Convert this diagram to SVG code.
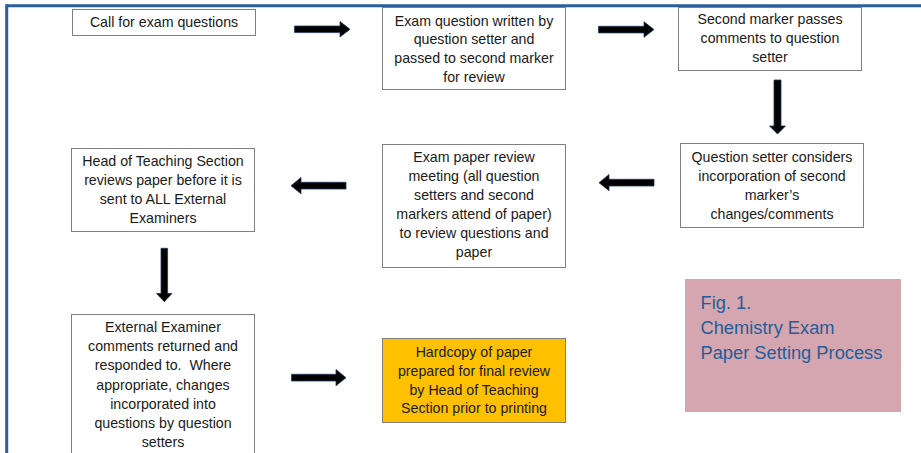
<svg xmlns="http://www.w3.org/2000/svg" width="921" height="453" viewBox="0 0 921 453">
<defs>
<style>
.box{fill:#ffffff;stroke:#7f7f7f;stroke-width:1}
.hot{fill:#ffc000;stroke:#7f7f7f;stroke-width:1}
.t{font-family:"Liberation Sans",Arial,sans-serif;font-size:14.2px;fill:#1a1a1a;text-anchor:middle}
.arr{fill:#000000;stroke:#1f3a5a;stroke-width:0.8}
.fig{font-family:"Liberation Sans",Arial,sans-serif;font-size:18.3px;fill:#1f5e9a}
</style>
</defs>
<rect width="921" height="453" fill="#ffffff"/>
<g id="frame">
<line x1="6.7" y1="5.8" x2="921" y2="5.8" stroke="#2a5e9c" stroke-width="3"/>
<line x1="6.7" y1="4.3" x2="6.7" y2="453" stroke="#2a5e9c" stroke-width="3"/>
</g>
<g id="n1"><rect class="box" x="72.5" y="9.5" width="183" height="26"/>
<text class="t" x="164" y="27.3">Call for exam questions</text></g>
<g id="n2"><rect class="box" x="382.5" y="7.5" width="183" height="82"/>
<text class="t" x="474" y="25.5">Exam question written by<tspan x="474" dy="18.8">question setter and</tspan><tspan x="474" dy="18.8">passed to second marker</tspan><tspan x="474" dy="18.8">for review</tspan></text></g>
<g id="n3"><rect class="box" x="678.5" y="7.5" width="183" height="63"/>
<text class="t" x="770" y="24">Second marker passes<tspan x="770" dy="19.2">comments to question</tspan><tspan x="770" dy="19.2">setter</tspan></text></g>
<g id="n4"><rect class="box" x="680.5" y="143.5" width="183" height="84"/>
<text class="t" x="772" y="161.7">Question setter considers<tspan x="772" dy="19.2">incorporation of second</tspan><tspan x="772" dy="19.2">marker’s</tspan><tspan x="772" dy="19.2">changes/comments</tspan></text></g>
<g id="n5"><rect class="box" x="382.5" y="144.5" width="183" height="123"/>
<text class="t" x="474" y="162.3">Exam paper review<tspan x="474" dy="18.9">meeting (all question</tspan><tspan x="474" dy="18.9">setters and second</tspan><tspan x="474" dy="18.9">markers attend of paper)</tspan><tspan x="474" dy="18.9">to review questions and</tspan><tspan x="474" dy="18.9">paper</tspan></text></g>
<g id="n6"><rect class="box" x="71.5" y="148.5" width="183" height="83"/>
<text class="t" x="163" y="165.7">Head of Teaching Section<tspan x="163" dy="19.2">reviews paper before it is</tspan><tspan x="163" dy="19.2">sent to ALL External</tspan><tspan x="163" dy="19.2">Examiners</tspan></text></g>
<g id="n7"><rect class="box" x="71.5" y="314.5" width="183" height="150"/>
<text class="t" x="163" y="332.3">External Examiner<tspan x="163" dy="19.07">comments returned and</tspan><tspan x="163" dy="19.07">responded to.&#160; Where</tspan><tspan x="163" dy="19.07">appropriate, changes</tspan><tspan x="163" dy="19.07">incorporated into</tspan><tspan x="163" dy="19.07">questions by question</tspan><tspan x="163" dy="19.07">setters</tspan></text></g>
<g id="n8"><rect class="hot" x="382.5" y="338.5" width="183" height="84"/>
<text class="t" x="474" y="356.7">Hardcopy of paper<tspan x="474" dy="18.9">prepared for final review</tspan><tspan x="474" dy="18.9">by Head of Teaching</tspan><tspan x="474" dy="18.9">Section prior to printing</tspan></text></g>
<g id="fig1"><rect x="685" y="279" width="216" height="133" fill="#d5a6af"/>
<text class="fig" x="700.5" y="309.3">Fig. 1.<tspan x="700.5" dy="24.8">Chemistry Exam</tspan><tspan x="700.5" dy="24.8">Paper Setting Process</tspan></text></g>
<g id="connectors">
<path class="arr" d="M294.5 26 H340 V21.5 L350 29.3 L340 37 V32.6 H294.5 Z"/>
<path class="arr" d="M598.5 26.3 H644 V21.8 L654 29.6 L644 37.3 V32.9 H598.5 Z"/>
<path class="arr" d="M774 80 V126 H769.5 L777.5 134 L785.5 126 H781 V80 Z"/>
<path class="arr" d="M654 179.3 H609 V174.5 L599 182.7 L609 190.8 V186 H654 Z"/>
<path class="arr" d="M346 182.3 H301 V177.5 L291 185.7 L301 193.8 V189 H346 Z"/>
<path class="arr" d="M161 248.3 V293.5 H156.5 L164.3 301.7 L172 293.5 H167.6 V248.3 Z"/>
<path class="arr" d="M291.5 374.3 H336 V369.5 L346 377.7 L336 385.8 V381 H291.5 Z"/>
</g>
</svg>
